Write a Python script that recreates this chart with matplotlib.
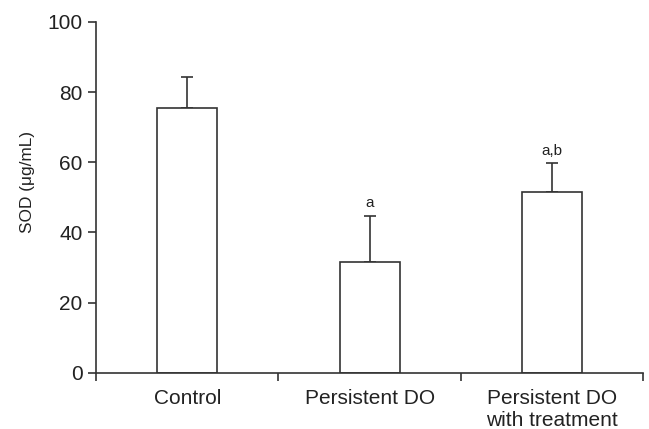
import matplotlib
matplotlib.use("Agg")
import matplotlib.pyplot as plt
import numpy as np

plt.rcParams['font.family'] = ['Liberation Sans', 'DejaVu Sans']

categories = ["Control", "Persistent DO", "Persistent DO\nwith treatment"]
means = [75.5, 31.5, 51.5]
errors = [8.8, 13.3, 8.3]
labels = ["", "a", "a,b"]

col = "#333333"
txt = "#222222"
fig = plt.figure(figsize=(6.49, 4.29), dpi=100)
ax = fig.add_axes([0.148, 0.131, 0.843, 0.818])
x = np.arange(len(categories))
ax.bar(x, means, width=0.33, color="white", edgecolor=col, linewidth=1.2, zorder=2)
ax.errorbar(x, means, yerr=[np.zeros(3), errors], fmt="none", ecolor=col,
            elinewidth=1.2, capsize=4.3, capthick=1.2, zorder=1)
for xi, m, e, t in zip(x, means, errors, labels):
    if t:
        ax.text(xi, m + e + 2.4, t, ha="center", va="baseline", fontsize=11, color=txt)

ax.set_xlim(-0.5, 2.5)
ax.set_ylim(0, 100)
ax.set_yticks([0, 20, 40, 60, 80, 100])
ax.set_xticks(x)
ax.set_xticklabels(categories, linespacing=1.2)
ax.set_xticks([-0.5, 0.5, 1.5, 2.5], minor=True)
ax.tick_params(axis="x", which="major", length=0, pad=12, labelsize=15, colors=txt)
ax.tick_params(axis="x", which="minor", length=5.5, width=1.2, color=col, direction="out")
ax.tick_params(axis="y", length=5.8, width=1.2, color=col, labelsize=15, labelcolor=txt, pad=4)
for s in ["top", "right"]:
    ax.spines[s].set_visible(False)
for s in ["left", "bottom"]:
    ax.spines[s].set_color(col)
    ax.spines[s].set_linewidth(1.2)
ax.set_ylabel("SOD (μg/mL)", fontsize=12.4, color=txt, labelpad=9)
ax.yaxis.label.set_y(0.544)
fig.savefig("out.png", dpi=100)
